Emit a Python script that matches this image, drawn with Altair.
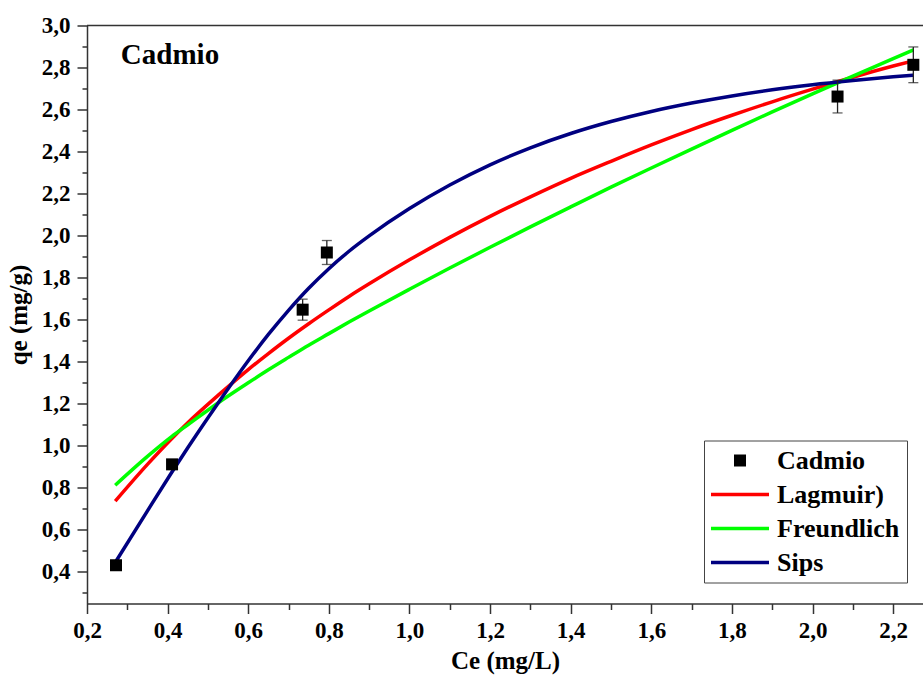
import altair as alt
import pandas as pd

# ---------------- data ----------------
X_MIN, X_MAX = 0.2, 2.274
Y_MIN, Y_MAX = 0.25, 3.0

pt_ce = [0.272, 0.411, 0.735, 0.795, 2.062, 2.250]
pt_qe = [0.432, 0.912, 1.648, 1.920, 2.662, 2.813]
pt_err = [0.010, 0.010, 0.050, 0.057, 0.078, 0.085]

fit_ce = [0.27, 0.35, 0.41, 0.45, 0.525, 0.60, 0.65, 0.70, 0.75, 0.80, 0.85, 0.90,
          1.00, 1.10, 1.20, 1.30, 1.40, 1.50, 1.60, 1.70, 1.80, 1.90, 2.00, 2.10,
          2.20, 2.25]
langmuir = [0.737, 0.912, 1.034, 1.110, 1.240, 1.363, 1.439, 1.512, 1.581, 1.647,
            1.711, 1.771, 1.885, 1.992, 2.092, 2.185, 2.273, 2.354, 2.432, 2.505,
            2.573, 2.637, 2.697, 2.754, 2.807, 2.832]
freundlich = [0.813, 0.950, 1.044, 1.100, 1.204, 1.300, 1.362, 1.421, 1.479, 1.534,
              1.589, 1.642, 1.745, 1.846, 1.945, 2.042, 2.137, 2.231, 2.322, 2.412,
              2.501, 2.589, 2.675, 2.759, 2.842, 2.884]
sips = [0.445, 0.691, 0.873, 0.991, 1.203, 1.405, 1.530, 1.645, 1.750, 1.843,
        1.926, 1.999, 2.129, 2.241, 2.337, 2.418, 2.486, 2.543, 2.591, 2.631,
        2.665, 2.694, 2.718, 2.738, 2.756, 2.764]

series_names = ["Cadmio", "Lagmuir)", "Freundlich", "Sips"]
series_colors = ["#000000", "#FF0000", "#00FF00", "#000080"]

x_major = [0.2, 0.4, 0.6, 0.8, 1.0, 1.2, 1.4, 1.6, 1.8, 2.0, 2.2]
x_minor = [0.3, 0.5, 0.7, 0.9, 1.1, 1.3, 1.5, 1.7, 1.9, 2.1]
y_major = [0.4, 0.6, 0.8, 1.0, 1.2, 1.4, 1.6, 1.8, 2.0, 2.2, 2.4, 2.6, 2.8, 3.0]
y_minor = [0.3, 0.5, 0.7, 0.9, 1.1, 1.3, 1.5, 1.7, 1.9, 2.1, 2.3, 2.5, 2.7, 2.9]

panel_label = "Cadmio"
label_pos = [0.284, 2.86]
x_title = "Ce (mg/L)"
y_title = "qe (mg/g)"

# ---------------- tables ----------------
pts = pd.DataFrame({
    "ce": pt_ce,
    "qe": pt_qe,
    "lo": [q - e for q, e in zip(pt_qe, pt_err)],
    "hi": [q + e for q, e in zip(pt_qe, pt_err)],
    "series": ["Cadmio"] * len(pt_ce),
})

rows = []
for name, ys in [("Lagmuir)", langmuir), ("Freundlich", freundlich), ("Sips", sips)]:
    for c, q in zip(fit_ce, ys):
        rows.append({"ce": c, "qe": q, "series": name})
lines = pd.DataFrame(rows)

one = pd.DataFrame({"text": [panel_label], "x": [label_pos[0]], "y": [label_pos[1]],
                    "x0": [X_MIN], "x1": [X_MAX], "ytop": [Y_MAX]})

FONT = "Liberation Serif"
LEG_FONT = "Liberation Serif, Times New Roman, serif"
AX = "#333333"
label_expr = "replace(format(datum.value, '.1f'), '.', ',')"

xs = alt.Scale(domain=[X_MIN, X_MAX], nice=False, zero=False)
ys_ = alt.Scale(domain=[Y_MIN, Y_MAX], nice=False, zero=False)

axis_x_major = alt.Axis(values=x_major, labelExpr=label_expr, title=x_title, orient="bottom",
                        tickSize=10, tickWidth=1.5, tickColor=AX, domainColor=AX, domainWidth=1.5,
                        labelFont=FONT, labelFontSize=23, labelFontWeight="bold", labelColor="black",
                        labelPadding=6, labelFlush=False, labelOverlap=False, labelBound=False,
                        titleFont=FONT, titleFontSize=25, titleFontWeight="bold", titleColor="black",
                        titlePadding=6, grid=False)
axis_y_major = alt.Axis(values=y_major, labelExpr=label_expr, title=y_title, orient="left",
                        tickSize=10, tickWidth=1.5, tickColor=AX, domainColor=AX, domainWidth=1.5,
                        labelFont=FONT, labelFontSize=23, labelFontWeight="bold", labelColor="black",
                        labelPadding=7, labelFlush=False, labelOverlap=False, labelBound=False,
                        titleFont=FONT, titleFontSize=25, titleFontWeight="bold", titleColor="black",
                        titlePadding=10, grid=False)
axis_x_minor = alt.Axis(values=x_minor, labels=False, title=None, orient="bottom", domain=False,
                        tickSize=6, tickWidth=1.5, tickColor=AX, grid=False)
axis_y_minor = alt.Axis(values=y_minor, labels=False, title=None, orient="left", domain=False,
                        tickSize=5, tickWidth=1.5, tickColor=AX, grid=False)

# legend symbols: filled square for the data, thin long bar for the fits
SQUARE = "M-0.6,-0.6H0.6V0.6H-0.6Z"
BAR = "M-2.9,-0.175H2.9V0.175H-2.9Z"
legend_shapes = [SQUARE, BAR, BAR, BAR]

the_legend = alt.Legend(
    title=None, orient="none", legendX=617, legendY=415, direction="vertical",
    labelFont=LEG_FONT, labelFontSize=26, labelFontWeight="bold", labelColor="black",
    symbolSize=400, symbolStrokeWidth=0, symbolOffset=16, symbolOpacity=1,
    labelOffset=24, rowPadding=8, padding=7,
    strokeColor="#444444", fillColor="white",
)

line_layers = []
for name, col in zip(series_names[1:], series_colors[1:]):
    line_layers.append(
        alt.Chart(lines).transform_filter(alt.datum.series == name)
        .mark_line(strokeWidth=3.5, interpolate="monotone", color=col)
        .encode(
            x=alt.X("ce:Q", scale=xs, axis=axis_x_major if name == "Lagmuir)" else None),
            y=alt.Y("qe:Q", scale=ys_, axis=axis_y_major if name == "Lagmuir)" else None),
        )
    )

# square markers carry the (shared) legend for every series
pt_layer = alt.Chart(pts).mark_point(filled=True, size=400, opacity=1, strokeWidth=0).encode(
    x=alt.X("ce:Q", scale=xs, axis=None),
    y=alt.Y("qe:Q", scale=ys_, axis=None),
    color=alt.Color("series:N",
                    scale=alt.Scale(domain=series_names, range=series_colors),
                    legend=the_legend),
    shape=alt.Shape("series:N",
                    scale=alt.Scale(domain=series_names, range=legend_shapes),
                    legend=the_legend),
)

err_layer = alt.Chart(pts).mark_rule(color="#222222", strokeWidth=1.3).encode(
    x=alt.X("ce:Q", scale=xs, axis=axis_x_minor),
    y=alt.Y("lo:Q", scale=ys_, axis=axis_y_minor),
    y2="hi:Q",
)
cap_lo = alt.Chart(pts).mark_tick(orient="horizontal", size=10, thickness=1.3, color="#222222").encode(
    x=alt.X("ce:Q", scale=xs, axis=None),
    y=alt.Y("lo:Q", scale=ys_, axis=None),
)
cap_hi = alt.Chart(pts).mark_tick(orient="horizontal", size=10, thickness=1.3, color="#222222").encode(
    x=alt.X("ce:Q", scale=xs, axis=None),
    y=alt.Y("hi:Q", scale=ys_, axis=None),
)
top_rule = alt.Chart(one).mark_rule(color=AX, strokeWidth=1.5).encode(
    x=alt.X("x0:Q", scale=xs, axis=None),
    x2="x1:Q",
    y=alt.Y("ytop:Q", scale=ys_, axis=None),
)
label_layer = alt.Chart(one).mark_text(
    align="left", baseline="middle",
    font=FONT, fontSize=29, fontWeight="bold", color="black",
).encode(
    x=alt.X("x:Q", scale=xs, axis=None),
    y=alt.Y("y:Q", scale=ys_, axis=None),
    text="text:N",
)

chart = alt.layer(
    *line_layers, err_layer, cap_lo, cap_hi, pt_layer, top_rule, label_layer
).resolve_axis(
    x="independent", y="independent"
).properties(
    width=836, height=578,
    autosize=alt.AutoSizeParams(type="none"),
    padding={"left": 87, "top": 25.5, "right": 0, "bottom": 71.5},
    background="white",
).configure(
    font=FONT,
    style={"guide-label": {"font": LEG_FONT, "fontWeight": "bold"},
           "guide-title": {"font": LEG_FONT, "fontWeight": "bold"}},
).configure_view(
    strokeWidth=0
).configure_legend(
    labelFont=LEG_FONT, labelFontSize=26, labelFontWeight="bold", labelColor="black"
)

chart.save("out.html", embed_options={"renderer": "svg", "actions": False})
